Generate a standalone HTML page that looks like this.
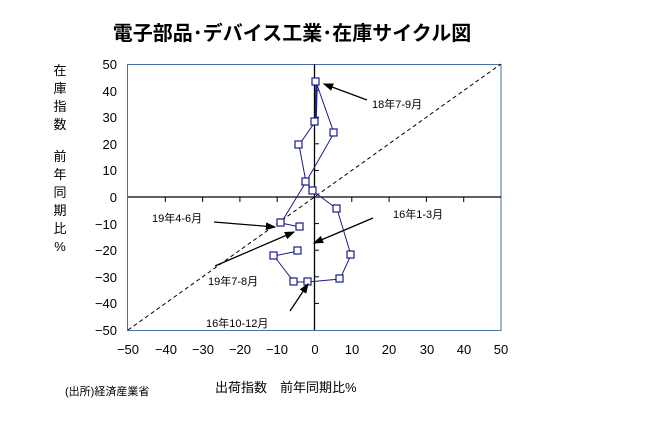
<!DOCTYPE html>
<html><head><meta charset="utf-8"><style>
body{margin:0;background:#fff;}
svg{display:block;font-family:"Liberation Sans","Noto Sans CJK JP",sans-serif;}
</style></head><body>
<svg width="650" height="424" viewBox="0 0 650 424">
<text x="292" y="40" font-size="20" font-weight="bold" text-anchor="middle">電子部品･デバイス工業･在庫サイクル図</text>
<rect x="127.5" y="64.5" width="373.5" height="266" fill="none" stroke="#4a6fa5" stroke-width="1"/>
<line x1="128" y1="330" x2="501" y2="64" stroke="#000" stroke-width="1" stroke-dasharray="4,3"/>
<line x1="314.5" y1="64" x2="314.5" y2="330" stroke="#000" stroke-width="1.3"/>
<line x1="128" y1="197" x2="501" y2="197" stroke="#000" stroke-width="1.3"/>
<g stroke="#000" stroke-width="1">
<line x1="314" y1="90.6" x2="319" y2="90.6"/><line x1="314" y1="117.2" x2="319" y2="117.2"/><line x1="314" y1="143.8" x2="319" y2="143.8"/><line x1="314" y1="170.4" x2="319" y2="170.4"/><line x1="314" y1="223.6" x2="319" y2="223.6"/><line x1="314" y1="250.2" x2="319" y2="250.2"/><line x1="314" y1="276.8" x2="319" y2="276.8"/><line x1="314" y1="303.4" x2="319" y2="303.4"/>
<line x1="165.3" y1="197" x2="165.3" y2="202"/><line x1="202.6" y1="197" x2="202.6" y2="202"/><line x1="239.9" y1="197" x2="239.9" y2="202"/><line x1="277.2" y1="197" x2="277.2" y2="202"/><line x1="351.8" y1="197" x2="351.8" y2="202"/><line x1="389.1" y1="197" x2="389.1" y2="202"/><line x1="426.4" y1="197" x2="426.4" y2="202"/><line x1="463.7" y1="197" x2="463.7" y2="202"/>
</g>
<g font-size="13" text-anchor="end">
<text x="117" y="69">50</text><text x="117" y="96">40</text><text x="117" y="122">30</text><text x="117" y="149">20</text><text x="117" y="175">10</text><text x="117" y="202">0</text><text x="117" y="229">−10</text><text x="117" y="255">−20</text><text x="117" y="282">−30</text><text x="117" y="308">−40</text><text x="117" y="335">−50</text>
</g>
<g font-size="13" text-anchor="middle">
<text x="128" y="354">−50</text><text x="166" y="354">−40</text><text x="203" y="354">−30</text><text x="240" y="354">−20</text><text x="277" y="354">−10</text><text x="315" y="354">0</text><text x="352" y="354">10</text><text x="389" y="354">20</text><text x="427" y="354">30</text><text x="464" y="354">40</text><text x="501" y="354">50</text>
</g>
<g font-size="13" text-anchor="middle">
<text x="60" y="75">在</text><text x="60" y="93">庫</text><text x="60" y="111">指</text><text x="60" y="129">数</text><text x="60" y="161">前</text><text x="60" y="179">年</text><text x="60" y="197">同</text><text x="60" y="215">期</text><text x="60" y="233">比</text><text x="60" y="251">%</text>
</g>
<text x="215" y="392" font-size="13">出荷指数　前年同期比%</text>
<text x="65" y="395" font-size="11">(出所)経済産業省</text>
<polyline fill="none" stroke="#1a1a8c" stroke-width="1" points="298,251 274,256 294,282 308,282 340,279 351,255 337,209 313,191 306,182 299,145 315,122 316,82 334,133 306,182 281,223 300,227"/>
<line x1="317" y1="82" x2="316" y2="122" stroke="#1a1a8c" stroke-width="1.5"/>
<g fill="#fff" stroke="#1a1a8c" stroke-width="1.2">
<rect x="312" y="78" width="7" height="7"/><rect x="311" y="118" width="7" height="7"/><rect x="330" y="129" width="7" height="7"/><rect x="295" y="141" width="7" height="7"/><rect x="302" y="178" width="7" height="7"/><rect x="309" y="187" width="7" height="7"/><rect x="333" y="205" width="7" height="7"/><rect x="347" y="251" width="7" height="7"/><rect x="336" y="275" width="7" height="7"/><rect x="304" y="278" width="7" height="7"/><rect x="290" y="278" width="7" height="7"/><rect x="270" y="252" width="7" height="7"/><rect x="294" y="247" width="7" height="7"/><rect x="277" y="219" width="7" height="7"/><rect x="296" y="223" width="7" height="7"/>
</g>
<defs><marker id="ah" markerWidth="8" markerHeight="6" refX="7" refY="3" orient="auto"><path d="M0,0 L8,3 L0,6 z" fill="#000"/></marker></defs>
<g stroke="#000" stroke-width="1.3" marker-end="url(#ah)">
<line x1="367" y1="100" x2="324" y2="84"/>
<line x1="373" y1="218" x2="314" y2="243"/>
<line x1="214" y1="222" x2="275" y2="227"/>
<line x1="215" y1="266" x2="294" y2="232"/>
<line x1="290" y1="311" x2="308" y2="284"/>
</g>
<g font-size="11">
<text x="372" y="108">18年7-9月</text>
<text x="393" y="218">16年1-3月</text>
<text x="152" y="222">19年4-6月</text>
<text x="208" y="285">19年7-8月</text>
<text x="206" y="327">16年10-12月</text>
</g>
</svg>
</body></html>
